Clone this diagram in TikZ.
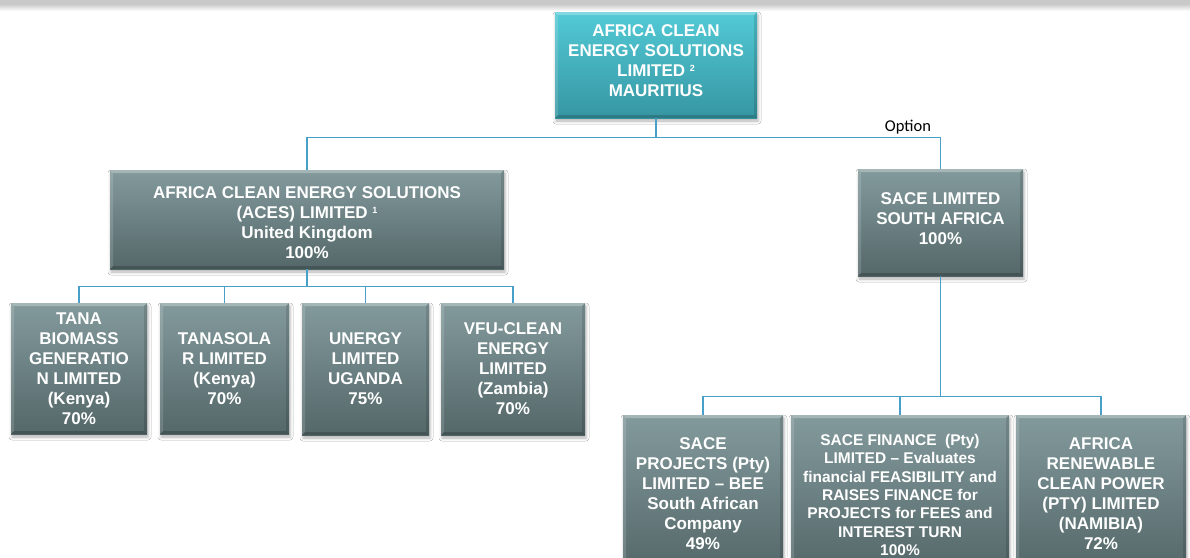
\documentclass[tikz,border=0pt]{standalone}
\usepackage{fontspec}
\setmainfont{Liberation Sans}
\newfontfamily\optfont{Carlito}
\usetikzlibrary{shadows.blur}

\definecolor{boxtop}{RGB}{131,154,156}
\definecolor{boxbot}{RGB}{84,103,105}
\definecolor{tealtop}{RGB}{82,202,214}
\definecolor{tealbot}{RGB}{54,150,162}
\definecolor{linkblue}{RGB}{72,160,200}

% small raised note number after a company name
\newcommand\noteref[1]{{\fontsize{9}{9}\selectfont\raisebox{5pt}{#1}}}

\tikzset{
  % lighter top/left rim, darker bottom/right rim
  bevel/.style={path picture={
    \fill[white,opacity=.28] (path picture bounding box.north west) -- (path picture bounding box.north east)
      -- ([xshift=-3pt,yshift=-3pt]path picture bounding box.north east) -- ([xshift=3pt,yshift=-3pt]path picture bounding box.north west) -- cycle;
    \fill[white,opacity=.15] (path picture bounding box.north west) -- (path picture bounding box.south west)
      -- ([xshift=3pt,yshift=3pt]path picture bounding box.south west) -- ([xshift=3pt,yshift=-3pt]path picture bounding box.north west) -- cycle;
    \fill[black,opacity=.18] (path picture bounding box.south west) -- (path picture bounding box.south east)
      -- ([xshift=-3pt,yshift=3pt]path picture bounding box.south east) -- ([xshift=3pt,yshift=3pt]path picture bounding box.south west) -- cycle;
    \fill[black,opacity=.12] (path picture bounding box.north east) -- (path picture bounding box.south east)
      -- ([xshift=-3pt,yshift=3pt]path picture bounding box.south east) -- ([xshift=-3pt,yshift=-3pt]path picture bounding box.north east) -- cycle;
  }},
  boxsize/.style 2 args={minimum width=#1pt, minimum height=#2pt},
  company/.style={rectangle, inner sep=2pt, align=center, text=white,
    font=\bfseries\fontsize{17}{20}\selectfont,
    top color=boxtop, bottom color=boxbot, bevel,
    blur shadow={shadow xshift=1pt, shadow yshift=-3pt, shadow blur radius=3pt, shadow opacity=30}},
  holding/.style={company, top color=tealtop, bottom color=tealbot},
  link/.style={draw=linkblue, line width=1.1pt},
  optlabel/.style={font=\optfont\fontsize{16.5}{18}\selectfont, inner sep=0pt}
}

\begin{document}
\begin{tikzpicture}[x=1pt, y=-1pt]
  \useasboundingbox (0,0) rectangle (1190,557);
  \fill[white] (0,0) rectangle (1190,557);

  % grey band along the top edge
  \fill[black!21] (0,0) rectangle (1190,4);
  \shade[top color=black!21, bottom color=white] (0,4) rectangle (1190,11);

  % Holding company (rule lifts the text a little)
  \node[holding, boxsize={202}{106}] (top) at (656,65)
    {AFRICA CLEAN\\ENERGY SOLUTIONS\\LIMITED \noteref{2}\\MAURITIUS\rule[-9pt]{0pt}{0pt}};

  % Second level
  \node[company, boxsize={394}{99}] (aces) at (307,219.5)
    {\rule{0pt}{18pt}AFRICA CLEAN ENERGY SOLUTIONS\\(ACES) LIMITED \noteref{1}\\United Kingdom\\100\%};
  \node[company, boxsize={165}{107}] (sace) at (940.5,222.5)
    {SACE LIMITED\\SOUTH AFRICA\\100\%\rule[-8pt]{0pt}{0pt}};

  % ACES subsidiaries
  \node[company, boxsize={136}{131}] (tana) at (79,368.5)
    {TANA\\BIOMASS\\GENERATIO\\N LIMITED\\(Kenya)\\70\%};
  \node[company, boxsize={129}{131}] (tanasolar) at (224.5,368.5)
    {TANASOLA\\R LIMITED\\(Kenya)\\70\%};
  \node[company, boxsize={127}{132}] (unergy) at (365.5,369)
    {UNERGY\\LIMITED\\UGANDA\\75\%};
  \node[company, boxsize={144}{132}] (vfu) at (513,369)
    {VFU-CLEAN\\ENERGY\\LIMITED\\(Zambia)\\70\%};

  % SACE subsidiaries
  \node[company, boxsize={160}{157}] (projects) at (703,493.5)
    {SACE\\PROJECTS (Pty)\\LIMITED -- BEE\\South African\\Company\\49\%};
  \node[company, boxsize={218}{157}, font=\bfseries\fontsize{15.5}{18.3}\selectfont] (finance) at (900,493.5)
    {\rule{0pt}{14pt}SACE FINANCE\ \ (Pty)\\LIMITED -- Evaluates\\financial FEASIBILITY and\\RAISES FINANCE for\\PROJECTS for FEES and\\INTEREST TURN\\100\%};
  \node[company, boxsize={170}{157}] (namibia) at (1101,493.5)
    {AFRICA\\RENEWABLE\\CLEAN POWER\\(PTY) LIMITED\\(NAMIBIA)\\72\%};

  % Connectors
  \draw[link] (top.south) -- ++(0,19) -| (aces.north);
  \draw[link] (top.south) -- ++(0,19) -| (sace.north);
  \foreach \c in {tana,tanasolar,unergy,vfu}
    \draw[link] (aces.south) -- ++(0,17) -| (\c.north);
  \foreach \c in {projects,finance,namibia}
    \draw[link] (sace.south) -- ++(0,120) -| (\c.north);

  \node[optlabel] (option) at (908,127) {Option};
\end{tikzpicture}
\end{document}
